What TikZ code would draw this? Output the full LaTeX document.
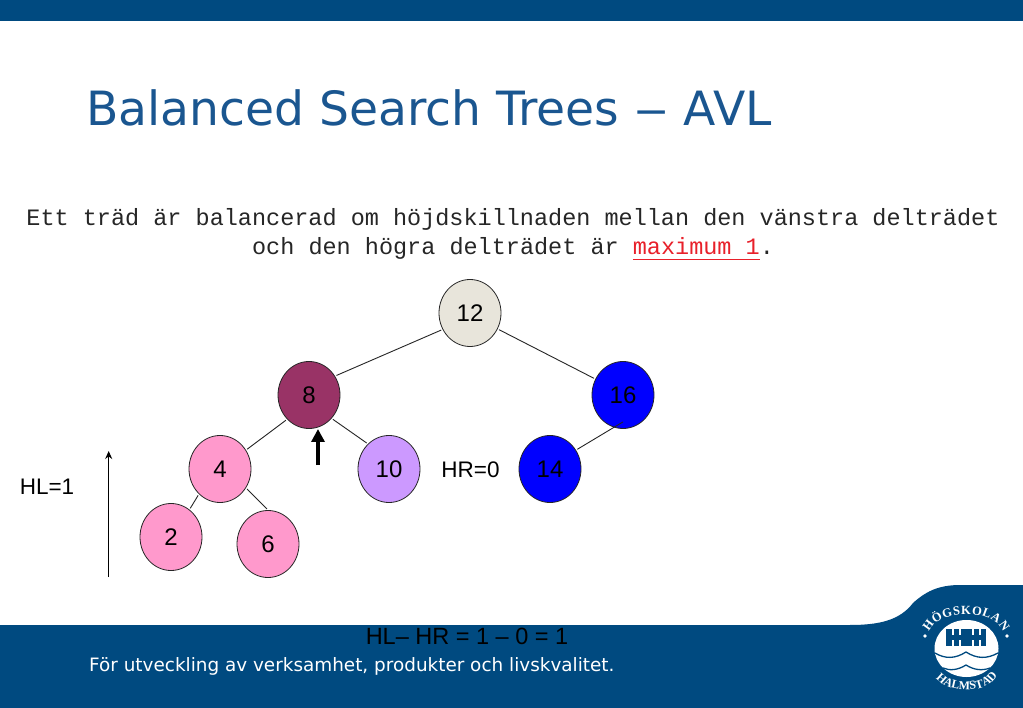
\documentclass[tikz,border=0pt]{standalone}
\usepackage{fontspec}
\setmainfont{Liberation Sans}
\newfontfamily\titlefont{DejaVu Sans}
\newfontfamily\monofont{Liberation Mono}
\newfontfamily\logofont{Liberation Serif}
\usetikzlibrary{arrows.meta, decorations.text, shapes.geometric}
\definecolor{hhblue}{HTML}{004A80}
\definecolor{titleblue}{HTML}{1A5690}
\definecolor{rootgrey}{HTML}{E8E5DB}
\definecolor{pinknode}{HTML}{FF99CC}
\definecolor{lilacnode}{HTML}{CC99FF}
\definecolor{plumnode}{HTML}{993366}
\definecolor{notered}{HTML}{E8202A}
\newcommand{\redline}[1]{\setbox0\hbox{#1}\textcolor{notered}{\rlap{\rule[-6pt]{\wd0}{0.8pt}}\box0}}
\tikzstyle{tree} = [ellipse, minimum width=62pt, minimum height=67pt, inner sep=0pt, line width=0.8pt, draw=black!85!white, text=black, font=\fontsize{24}{26}\selectfont]
\tikzstyle{txt} = [inner sep=0pt, text=black, font=\fontsize{22.5}{26}\selectfont]
\tikzstyle{edge} = [line width=0.9pt, black!85!white, shorten <=1.5pt, shorten >=1.5pt]
\tikzstyle{arrow} = [line width=1.1pt,-{Stealth[length=8pt,width=7pt]}]
\tikzstyle{bigarrow} = [line width=4pt,-{Stealth[length=13pt,width=13pt,inset=0pt]}]
\tikzstyle{logotext} = [decorate, decoration={text along path, text color=white, text align={fit to path}}]

\begin{document}
\begin{tikzpicture}[x=1pt, y=-1pt]
    \useasboundingbox (0,0) rectangle (1023,708);
    \fill [white] (0,0) rectangle (1023,708);
    \fill [hhblue] (0,0) rectangle (1023,21);
    \fill [hhblue] (0,708) -- (0,625) -- (850,625) .. controls (880,625) and (900,620) .. (913,603) .. controls (925,592) and (938,585) .. (960,585) -- (1023,585) -- (1023,708) -- cycle;

    \node (title) [anchor=west, inner sep=0pt, text=titleblue, font=\titlefont\fontsize{47.2}{50}\selectfont] at (86,108) {Balanced Search Trees \scalebox{1.45}[1]{–} AVL};
    \node (intro) [align=center, inner sep=0pt, font=\monofont\fontsize{23.5}{29}\selectfont, text=black!85!white] at (513,234) {Ett träd är balancerad om höjdskillnaden mellan den vänstra delträdet\\och den högra delträdet är \redline{maximum 1}.};

    \node (n12) [tree, fill=rootgrey] at (470,313) {12};
    \node (n8) [tree, fill=plumnode] at (309,395) {8};
    \node (n16) [tree, fill=blue] at (623,395) {16};
    \node (n4) [tree, fill=pinknode] at (220,469) {4};
    \node (n10) [tree, fill=lilacnode] at (389,469) {10};
    \node (n14) [tree, fill=blue] at (550,469) {14};
    \node (n2) [tree, fill=pinknode] at (171,537) {2};
    \node (n6) [tree, fill=pinknode] at (268,544) {6};

    \draw [edge] (n12.211) -- (n8.36);
    \draw [edge] (n12.-30) -- (n16.150);
    \draw [edge] (n8.228) -- (n4.36);
    \draw [edge] (n8.-46) -- (n10.130);
    \draw [edge] (n4.-36) -- (n6.90);
    \draw [edge] (n4.230) -- (n2.56);
    \draw [edge, shorten >=0pt] (n14.36) -- ([yshift=7pt]n16.-90);

    \coordinate (hlbottom) at (108.7,577);
    \coordinate (hltop) at (108.7,451);
    \coordinate (markbottom) at (318,465);
    \coordinate (marktop) at (318,429);
    \draw [arrow] (hlbottom) -- (hltop);
    \draw [bigarrow] (markbottom) -- (marktop);

    \node (hl) [txt] at (47,487) {HL=1};
    \node (hr) [txt] at (470.5,470) {HR=0};
    \node (diff) [txt, font=\fontsize{23.5}{26}\selectfont] at (467,636) {HL-- HR = 1 -- 0 = 1};
    \node (slogan) [anchor=west, inner sep=0pt, text=white, font=\titlefont\fontsize{18.4}{20}\selectfont] at (89,666) {För utveckling av verksamhet, produkter och livskvalitet.};

    % logo
    \fill [white] (966.5,648.5) ellipse (32pt and 28.5pt);
    \fill [hhblue] (946,629) rectangle (986,646);
    \foreach \x in {952,959,972,979} {
        \fill [white] (\x,629) rectangle (\x+1.6,635);
        \fill [white] (\x,640) rectangle (\x+1.6,646);
    }
    \draw [hhblue, line width=1.3pt] (935,653) .. controls (945,659) and (955,659) .. (966,652) .. controls (977,659) and (987,659) .. (998,653);
    \draw [hhblue, line width=1.3pt] (943,668) .. controls (950,671) and (958,670) .. (966,665) .. controls (974,670) and (982,671) .. (990,668);
    \fill [white] (925,636) circle (1.8pt);
    \fill [white] (1007,636) circle (1.8pt);
    \path [logotext, decoration={text={|\logofont\bfseries\fontsize{12.5}{13}\selectfont|HÖGSKOLAN}}] (929,632) .. controls (939,608) and (993,608) .. (1003,632);
    \path [logotext, decoration={text={|\logofont\bfseries\fontsize{12}{13}\selectfont|HALMSTAD}}] (936,678) .. controls (948,694) and (984,694) .. (996,678);
\end{tikzpicture}
\end{document}
